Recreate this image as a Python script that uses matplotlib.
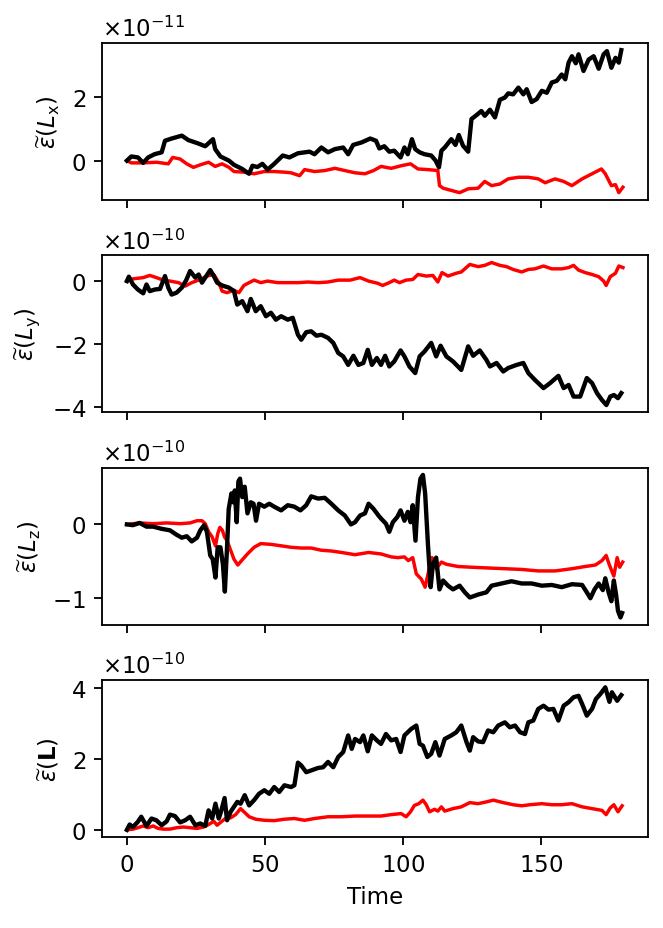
import matplotlib
matplotlib.use("Agg")
import numpy as np
import matplotlib.pyplot as plt

plt.rcParams['axes.formatter.use_mathtext'] = True

# --- values (units of the offset shown on each panel) ---
# L_x, x1e-11
t_lx_k = [0, 1.6, 4, 5.9, 7.7, 10, 12.6, 13.8, 16.2, 19.9, 22.3, 25.4, 28.4, 31.2, 32, 33.9, 37, 38.8, 41.8, 44.3,
          45.5, 47.3, 49.1, 51, 53.4, 56.5, 58.9, 62, 66.2, 68, 70.5, 72.9, 75.4, 78.4, 80.2, 82, 85.1, 88.2, 90.3,
          91.5, 93.3, 95.1, 96.9, 99.2, 100.6, 101.8, 103.3, 104.5, 106.1, 107.9, 110.3, 111.9, 113.1, 114, 115.2,
          117.6, 119.1, 120.3, 121.8, 123.7, 124.9, 126.7, 128.5, 129.7, 131.6, 133.4, 135.2, 137, 138.2, 140, 141.9,
          143.7, 144.9, 146.7, 148.5, 150.4, 152.2, 154, 155.8, 157.6, 158.9, 160.1, 161.3, 162.7, 163.7, 165.5,
          167.4, 169.2, 171, 172.8, 174, 175.6, 177.1, 178.3, 179.2]
lx_k = [0, 0.13, 0.1, -0.07, 0.1, 0.2, 0.26, 0.62, 0.69, 0.78, 0.64, 0.55, 0.45, 0.67, 0.36, 0.13, 0, -0.13, -0.26,
        -0.41, -0.16, -0.2, -0.1, -0.28, -0.1, 0.16, 0.1, 0.23, 0.28, 0.2, 0.41, 0.26, 0.36, 0.41, 0.2, 0.49, 0.57,
        0.69, 0.62, 0.38, 0.45, 0.28, 0.31, 0.1, 0.41, 0.2, 0.67, 0.36, 0.26, 0.2, 0.16, 0, -0.21, 0.31, 0.41, 0.67,
        0.49, 0.8, 0.47, 0.28, 1.3, 1.42, 1.55, 1.4, 1.59, 1.35, 1.9, 1.97, 2.1, 2.07, 2.28, 2.07, 2.23, 1.83, 1.92,
        2.18, 2.12, 2.44, 2.49, 2.69, 2.54, 3.06, 3.26, 3.04, 3.32, 2.8, 3.16, 3.26, 2.87, 3.32, 3.42, 2.9, 3.21,
        3.06, 3.45]
t_lx_r = [0, 1.6, 5.9, 10.7, 15, 16.6, 19.3, 21.7, 24.1, 26.6, 29.6, 32, 34.5, 37, 38.8, 42.4, 46.1, 49.8, 53.4,
          57.1, 59.5, 62.6, 64.4, 68, 71.7, 75.4, 79, 82.7, 86.3, 89.4, 92.1, 95.8, 99.4, 102.8, 105.5, 109.1, 112.7,
          113.3, 114.6, 117.6, 120.6, 123.7, 127.3, 129.7, 132.2, 135.2, 138.2, 141.9, 145.5, 149.1, 151.6, 155.2,
          158.3, 161.3, 165, 168.6, 172, 173.4, 175.6, 177.1, 178.3, 179.8]
lx_r = [0, -0.07, -0.07, -0.05, -0.1, 0.1, 0.05, -0.1, -0.21, -0.13, -0.05, -0.18, -0.1, -0.21, -0.34, -0.36, -0.41,
        -0.34, -0.34, -0.36, -0.38, -0.47, -0.28, -0.34, -0.31, -0.24, -0.31, -0.38, -0.41, -0.31, -0.18, -0.24,
        -0.16, -0.1, -0.26, -0.28, -0.31, -0.78, -0.86, -0.93, -1.0, -0.88, -0.86, -0.65, -0.78, -0.73, -0.57,
        -0.52, -0.52, -0.57, -0.69, -0.57, -0.65, -0.78, -0.57, -0.41, -0.26, -0.41, -0.78, -0.75, -1.0, -0.83]

# L_y, x1e-10
t_ly_k = [0, 0.7, 2.2, 4, 5.9, 7.1, 8.3, 10.1, 12, 13.8, 15, 16.2, 18, 19.9, 21.5, 22.9, 24.8, 26, 27.2, 28.4, 30.2,
          31.5, 32.7, 34.5, 37, 38.8, 40, 41.8, 43.7, 44.9, 46.7, 48.5, 50.4, 52.2, 54, 55.9, 58.3, 60.1, 62, 63.2,
          65, 66.8, 68.7, 70.5, 72.9, 74.8, 76.6, 78.4, 80.2, 82.1, 83.9, 85.7, 87.3, 88.8, 90.6, 92.1, 93.6, 95.1,
          96.9, 99.2, 100.6, 102.4, 104.5, 106.1, 107.9, 110.3, 112.1, 113.7, 115.8, 118.2, 121.2, 123.7, 125.5,
          127.9, 130.3, 131.6, 134, 136.4, 138.2, 141.3, 143.7, 145.5, 147.9, 151, 153.4, 156.4, 158.3, 160.1,
          161.9, 164.3, 166.7, 168.6, 170.4, 172.2, 173.8, 175.2, 176.5, 178, 179.2]
ly_k = [0, 0.14, -0.11, -0.27, -0.39, -0.11, -0.32, -0.27, -0.25, 0.16, -0.21, -0.43, -0.37, -0.21, 0.03, 0.32, 0.11,
        0.21, -0.05, 0.11, 0.35, 0.16, -0.05, -0.14, -0.21, -0.32, -0.75, -0.64, -0.96, -0.57, -0.96, -0.8, -1.12,
        -1.01, -1.23, -1.12, -1.23, -1.17, -1.71, -1.87, -1.63, -1.6, -1.74, -1.71, -1.81, -1.97, -2.29, -2.4,
        -2.67, -2.38, -2.67, -2.61, -2.19, -2.67, -2.45, -2.67, -2.38, -2.72, -2.56, -2.21, -2.4, -2.72, -2.93,
        -2.4, -2.24, -1.97, -2.4, -2.06, -2.4, -2.56, -2.83, -2.08, -2.38, -2.21, -2.51, -2.72, -2.61, -2.88,
        -2.77, -2.67, -2.61, -2.93, -3.15, -3.41, -3.25, -3.02, -3.41, -3.31, -3.68, -3.68, -3.09, -3.25, -3.57,
        -3.79, -3.95, -3.68, -3.63, -3.73, -3.57]
t_ly_r = [0, 2.2, 5.9, 8.3, 10.7, 13.2, 15.6, 18.7, 21.1, 23.5, 26.6, 29, 31.5, 33.3, 34.5, 36.3, 38.8, 40.6, 42.4,
          44.3, 46.1, 48.5, 51, 54.6, 58.3, 62, 65.6, 69.3, 72.9, 76.6, 80.9, 84.5, 87.6, 90.9, 92.7, 95.1, 96.9,
          98.8, 101.2, 103.6, 105.5, 108.5, 110.9, 112.7, 114.2, 116.4, 119.4, 121.2, 124.3, 127.3, 129.7, 132.2,
          135.2, 137.6, 140, 143.1, 145.5, 147.9, 151, 154, 157.6, 160.1, 161.9, 163.7, 166.1, 168.6, 171, 172.8,
          173.7, 175.2, 177.1, 178.3, 179.8]
ly_r = [0, 0.07, 0.11, 0.18, 0.11, 0.03, 0, -0.05, -0.16, -0.05, 0.05, 0.16, 0.21, -0.05, -0.32, -0.37, -0.29, -0.37,
        -0.14, -0.05, 0.03, -0.05, 0, -0.05, -0.05, -0.05, -0.03, -0.05, -0.03, 0.03, 0.03, 0.11, 0, -0.07, -0.14,
        -0.05, 0.03, -0.05, 0.03, 0.05, 0.21, 0.16, 0.18, -0.03, 0.27, 0.16, 0.25, 0.29, 0.53, 0.46, 0.5, 0.59, 0.5,
        0.46, 0.37, 0.29, 0.37, 0.39, 0.48, 0.39, 0.39, 0.43, 0.5, 0.35, 0.27, 0.21, 0.14, 0, -0.14, 0.14, 0.25,
        0.48, 0.43]

# L_z, x1e-10
t_lz_k = [0, 2.2, 4.6, 7.1, 9.5, 12.6, 15.6, 18, 19.9, 21.7, 23.5, 25.4, 26.6, 28, 29, 30.2, 31.1, 32.1, 32.9, 33.9,
          34.8, 35.5, 36.3, 36.9, 37.9, 38.5, 39.1, 39.8, 40.4, 41, 41.8, 42.7, 43.7, 44.9, 45.9, 46.8, 47.9, 49.8,
          51.6, 53.4, 55.9, 58.3, 60.7, 62.9, 65, 66.8, 69.3, 71.7, 74.1, 76.6, 79, 81.2, 82.7, 84.5, 86.3, 87.6,
          89.4, 91.2, 92.1, 93.9, 95.1, 96.4, 98, 99.2, 100.6, 101.8, 102.8, 103.6, 104.6, 105.5, 106.4, 107.3,
          108.1, 109.1, 110.1, 110.9, 112.1, 113.3, 114.6, 116.4, 118.2, 120.6, 122.5, 124.3, 127.3, 130.3, 132.2,
          135.8, 139.4, 143.1, 146.7, 150.4, 154, 157.6, 161.3, 165, 166.7, 168, 169.5, 171, 172.5, 173.4, 174.6,
          175.6, 176.5, 177.3, 178, 178.9, 179.5]
lz_k = [0, -0.01, 0.02, -0.03, -0.03, -0.06, -0.08, -0.14, -0.18, -0.16, -0.23, -0.18, -0.08, -0.01, -0.1, -0.42,
        -0.47, -0.72, -0.31, -0.31, -0.54, -0.91, -0.31, 0.21, 0.42, 0.3, 0.46, 0.03, 0.58, 0.62, 0.37, 0.51, 0.15,
        0.3, 0.28, 0.05, 0.28, 0.24, 0.28, 0.24, 0.19, 0.26, 0.24, 0.19, 0.26, 0.38, 0.35, 0.36, 0.28, 0.19, 0.12, 0,
        0.03, 0.12, 0.15, 0.28, 0.21, 0.12, 0.08, 0.01, -0.1, 0.03, 0.1, 0.19, 0.05, 0.17, 0.03, 0.26, -0.22, 0.37,
        0.62, 0.67, 0.42, -0.26, -0.85, -0.54, -0.45, -0.88, -0.76, -0.83, -0.88, -0.83, -0.92, -0.99, -0.95,
        -0.92, -0.83, -0.8, -0.77, -0.8, -0.8, -0.83, -0.82, -0.85, -0.81, -0.82, -0.92, -1.0, -0.88, -0.8, -0.89,
        -0.73, -0.92, -1.04, -0.76, -0.95, -1.17, -1.26, -1.2]
t_lz_r = [0, 4.6, 9.5, 14.4, 19.3, 22.9, 25.4, 27.2, 28.4, 29.6, 30.9, 32.1, 32.9, 33.7, 34.6, 35.4, 36.3, 37.6, 38.8,
          40.2, 41.8, 43.7, 46.1, 48.5, 52.2, 55.9, 59.5, 63.2, 66.8, 70.5, 74.1, 77.8, 82.7, 87.6, 92.1, 95.8, 98.2,
          100.6, 102, 103.6, 104.9, 106.7, 108.1, 109.4, 110.6, 112.1, 114, 115.8, 120, 124.9, 130.9, 137, 143.1,
          149.1, 155.2, 161.3, 166.1, 169.8, 172.2, 173.7, 174.9, 176.5, 177.7, 178.6, 179.7]
lz_r = [0, 0.02, 0.01, 0.02, 0.01, 0.02, 0.05, 0.05, 0.01, -0.1, -0.17, -0.29, -0.13, -0.04, -0.08, -0.17, -0.22,
        -0.35, -0.47, -0.55, -0.48, -0.4, -0.31, -0.26, -0.27, -0.29, -0.31, -0.32, -0.32, -0.35, -0.36, -0.38,
        -0.41, -0.38, -0.4, -0.44, -0.45, -0.44, -0.49, -0.45, -0.67, -0.74, -0.85, -0.63, -0.45, -0.6, -0.51,
        -0.54, -0.57, -0.58, -0.59, -0.6, -0.61, -0.63, -0.63, -0.6, -0.57, -0.55, -0.49, -0.42, -0.55, -0.7,
        -0.45, -0.58, -0.51]

# |L|, x1e-10
t_l_k = [0, 1, 2.2, 4, 5.2, 7.1, 8.9, 10.7, 12.6, 14.4, 15.6, 17.4, 19.3, 21.1, 22.9, 24.8, 26.6, 28.4, 29.6, 30.9,
         32.1, 33.3, 34.1, 35.4, 36.3, 37.6, 38.8, 40, 41.2, 42.7, 44.3, 46.1, 47.9, 49.8, 51.6, 53.4, 55.2, 57.1,
         59.5, 60.7, 62, 63.2, 65, 66.8, 69.3, 71.1, 72.9, 74.8, 76.6, 78.4, 80.2, 81.5, 82.7, 84.5, 85.7, 87.3,
         88.8, 90.6, 92.1, 93.9, 95.8, 97.6, 99.2, 100.6, 103, 104.9, 106.1, 107.3, 108.9, 110.3, 111.8, 113.3,
         115.2, 117.6, 119.4, 121.2, 123.1, 124.3, 125.5, 127.3, 129.1, 130.9, 132.8, 134.6, 137, 138.8, 140.7,
         142.5, 144.3, 145.5, 147.3, 149.1, 151, 152.8, 154.6, 156.4, 158.3, 160.1, 161.9, 163.7, 165, 166.7, 168.6,
         170, 171.6, 173.4, 174.9, 175.8, 177.7, 179.2]
l_k = [0, 0.15, 0.08, 0.23, 0.37, 0.11, 0.32, 0.27, 0.13, 0.24, 0.43, 0.39, 0.21, 0.27, 0.37, 0.13, 0.18, 0.11, 0.55,
       0.32, 0.74, 0.32, 0.51, 0.9, 0.27, 0.51, 0.65, 0.79, 0.74, 0.98, 0.69, 0.84, 1.02, 1.12, 1.02, 1.21, 1.07,
       1.26, 1.21, 1.26, 1.9, 1.82, 1.63, 1.68, 1.75, 1.77, 1.92, 1.77, 2.06, 2.2, 2.67, 2.29, 2.57, 2.48, 2.67, 2.22,
       2.67, 2.53, 2.43, 2.71, 2.53, 2.57, 2.2, 2.67, 2.85, 2.95, 2.43, 2.38, 2.06, 2.15, 2.48, 2.1, 2.57, 2.67, 2.76,
       2.95, 2.48, 2.24, 2.62, 2.5, 2.48, 2.81, 2.76, 2.95, 3.04, 2.9, 2.95, 2.76, 2.71, 3.04, 3.09, 3.42, 3.51, 3.4,
       3.42, 3.09, 3.51, 3.61, 3.75, 3.79, 3.56, 3.23, 3.42, 3.7, 3.84, 4.03, 3.62, 3.89, 3.65, 3.81]
t_l_r = [0, 2.2, 4, 5.9, 7.7, 9.5, 11.3, 13.2, 15.6, 18, 20.5, 22.9, 25.4, 27.8, 29.6, 31.5, 32.7, 33.9, 35.7, 37.6,
         39.4, 41.2, 42.7, 44.3, 46.7, 49.8, 53.4, 57.1, 60.7, 64.4, 68, 72.9, 77.8, 82.7, 87.6, 92.1, 95.8, 99.4,
         101.2, 102.8, 104.2, 105.8, 107.3, 108.5, 109.7, 111.5, 112.7, 114, 115.2, 118.2, 121.2, 124.3, 127.3,
         130.3, 132.8, 136.4, 140, 143.1, 146.1, 150.4, 154, 157.6, 161.3, 165, 168.6, 172.2, 173.7, 175.2, 176.5,
         178, 179.5]
l_r = [0, 0.02, 0.06, 0.11, 0.06, 0.11, 0.04, 0.02, 0.02, 0.06, 0.08, 0.06, 0.04, 0.08, 0.15, 0.24, 0.13, 0.21,
       0.32, 0.34, 0.43, 0.6, 0.49, 0.37, 0.3, 0.27, 0.26, 0.3, 0.32, 0.27, 0.32, 0.37, 0.37, 0.39, 0.39, 0.39, 0.43,
       0.46, 0.37, 0.51, 0.69, 0.74, 0.84, 0.71, 0.51, 0.58, 0.53, 0.65, 0.53, 0.6, 0.65, 0.77, 0.74, 0.79, 0.84,
       0.77, 0.71, 0.68, 0.71, 0.74, 0.71, 0.71, 0.74, 0.65, 0.6, 0.55, 0.43, 0.62, 0.71, 0.51, 0.68]

ylabels = [r'$\widetilde{\varepsilon}(L_{\rm x})$', r'$\widetilde{\varepsilon}(L_{\rm y})$',
           r'$\widetilde{\varepsilon}(L_{\rm z})$', r'$\widetilde{\varepsilon}(\mathbf{L})$']
scales = [1e-11, 1e-10, 1e-10, 1e-10]
series = [
    (t_lx_k, lx_k, t_lx_r, lx_r),
    (t_ly_k, ly_k, t_ly_r, ly_r),
    (t_lz_k, lz_k, t_lz_r, lz_r),
    (t_l_k, l_k, t_l_r, l_r),
]

DPI = 165
fig, axes = plt.subplots(4, 1, sharex=True, figsize=(663 / DPI, 929 / DPI), dpi=DPI)
fig.subplots_adjust(left=0.154, right=0.977, top=0.9526, bottom=0.098, hspace=0.355)

for ax, (tk, yk, tr, yr), s, lab in zip(axes, series, scales, ylabels):
    ax.plot(tr, np.array(yr) * s, color='red', lw=1.5)
    ax.plot(tk, np.array(yk) * s, color='black', lw=1.9)
    ax.set_ylabel(lab)

axes[-1].set_xlabel('Time')
axes[-1].set_xticks([0, 50, 100, 150])

fig.savefig('out.png', dpi=DPI)
